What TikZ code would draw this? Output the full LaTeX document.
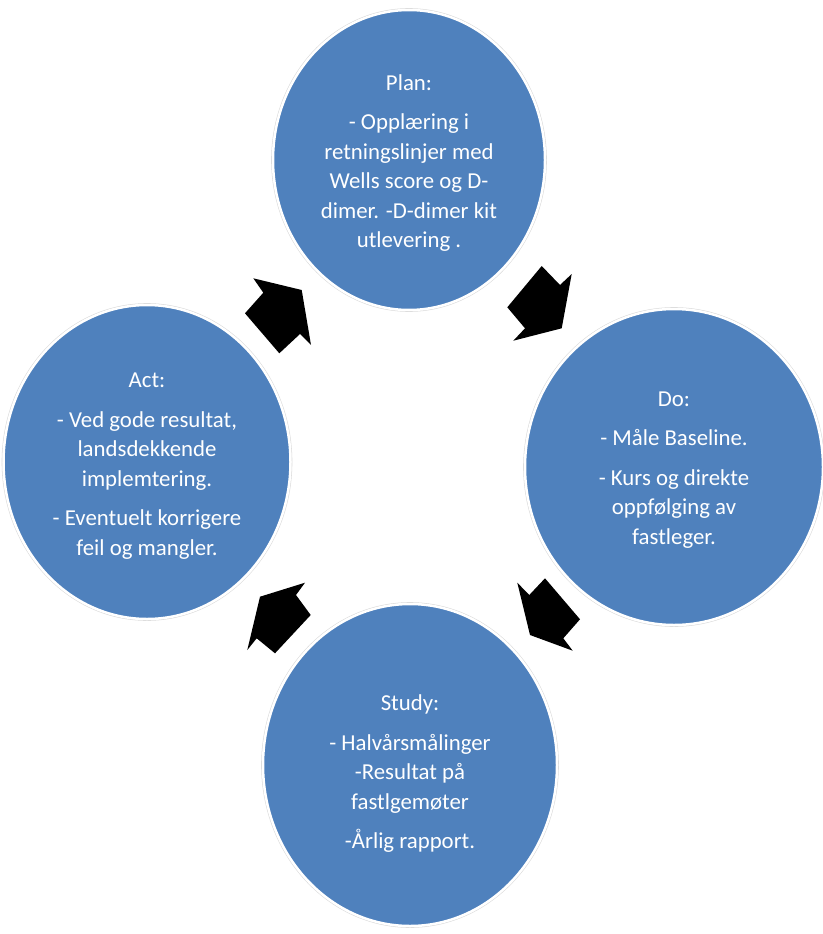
\documentclass[tikz,border=0pt]{standalone}
\usepackage{fontspec}
\setmainfont{Carlito}
\usetikzlibrary{shapes.geometric}
\definecolor{pdcablue}{HTML}{4F81BD}
\tikzset{
  blob/.style={ellipse, fill=pdcablue, draw=white, line width=2.5pt,
    preaction={draw=black!15, line width=3.6pt}, inner sep=0pt, outer sep=0pt},
  blobtext/.style={text=white, align=center, inner sep=0pt,
    font=\fontsize{22.8}{29.5}\selectfont},
  cyclearrow/.style={fill=black, draw=none}
}
\begin{document}
\begin{tikzpicture}[x=1pt,y=-1pt]
\useasboundingbox (0,0) rectangle (822,934);
% circles
\node[blob, minimum width=272pt, minimum height=300pt] (plan) at (409,160) {};
\node[blob, minimum width=298pt, minimum height=316pt] (do) at (674,467) {};
\node[blob, minimum width=294pt, minimum height=322pt] (study) at (410,765) {};
\node[blob, minimum width=287pt, minimum height=314pt] (act) at (147,462) {};
% texts
\node[blobtext] (plantext) at ([yshift=-3pt]plan.center) {Plan:\\[10pt]- Opplæring i\\retningslinjer med\\Wells score og D-\\dimer. -D-dimer kit\\utlevering .};
\node[blobtext] (dotext) at ([yshift=-3pt]do.center) {Do:\\[10pt]- Måle Baseline.\\[10pt]- Kurs og direkte\\oppfølging av\\fastleger.};
\node[blobtext] (studytext) at ([yshift=-9pt]study.center) {Study:\\[10pt]- Halvårsmålinger\\-Resultat på\\fastlgemøter\\[10pt]-Årlig rapport.};
\node[blobtext] (acttext) at ([yshift=-4pt]act.center) {Act:\\[10pt]- Ved gode resultat,\\landsdekkende\\implemtering.\\[10pt]- Eventuelt korrigere\\feil og mangler.};
% cycle arrows
\fill[cyclearrow] (541.7,266) -- (560,285) -- (571.7,274) -- (561.7,328.3) -- (513.3,340.7) -- (525,328.3) -- (507.3,307.3) -- cycle;
\fill[cyclearrow] (545,578.3) -- (580,619.3) -- (563.3,638.3) -- (572.7,650.7) -- (530,635) -- (517.3,582.7) -- (529.3,595) -- cycle;
\fill[cyclearrow] (310.7,615) -- (275,653.3) -- (256.7,638.3) -- (247.3,650) -- (260,596.7) -- (305,582.7) -- (296,595) -- cycle;
\fill[cyclearrow] (279.3,353.3) -- (245,313.3) -- (263.3,292.7) -- (253.3,278.3) -- (301.7,290) -- (311,345) -- (300,334) -- cycle;
\end{tikzpicture}
\end{document}
